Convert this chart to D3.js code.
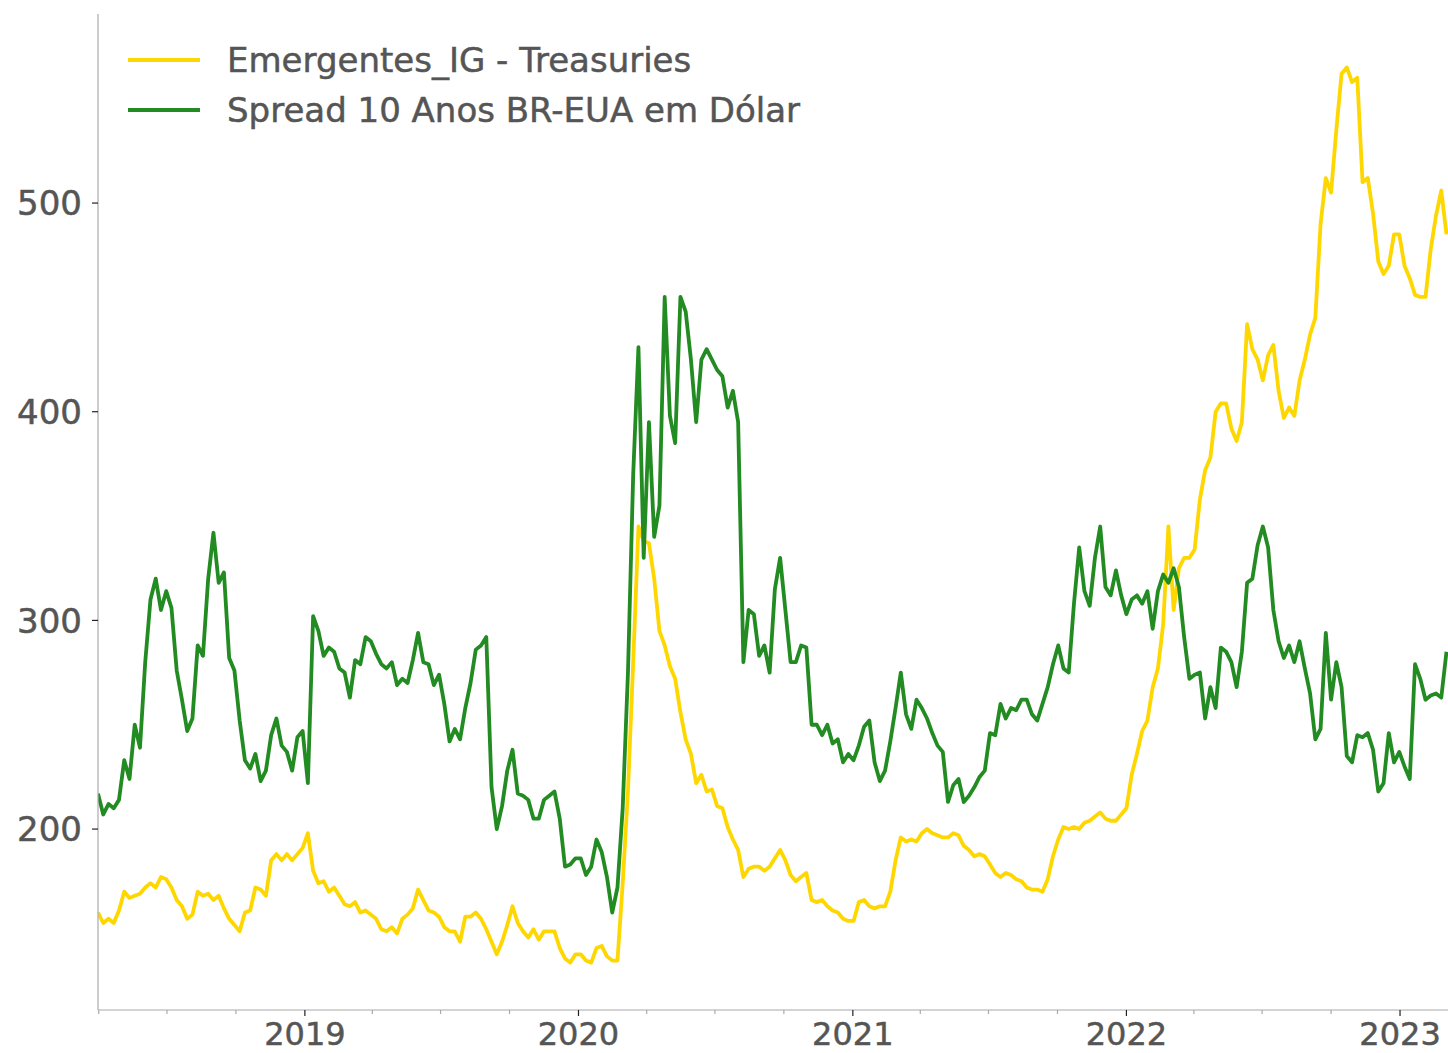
<!DOCTYPE html>
<html>
<head>
<meta charset="utf-8">
<script src="https://cdn.jsdelivr.net/npm/d3@7"></script>
<style>
  body { margin: 0; background: #fff; }
  svg { display: block; font-family: "DejaVu Sans", sans-serif; }
  .tick-label { fill: #555; stroke: #555; stroke-width: 0.5px; }
</style>
</head>
<body>
<div id="chart"></div>
<script>
// weekly observations, first week starting 2018-03-31
var startDate = new Date(2018, 2, 31);

var seriesNames = ["Emergentes_IG - Treasuries", "Spread 10 Anos BR-EUA em Dólar"];
var seriesColors = ["#FFD700", "#228B22"];

var emergentesIG = [
  160,155,157,155,161,170,167,168,169,172,174,172,177,176,172,166,163,157,159,170,
  168,169,166,168,162,157,154,151,160,161,172,171,168,185,188,185,188,185,188,191,
  198,180,174,175,170,172,168,164,163,165,160,161,159,157,152,151,153,150,157,159,
  162,171,166,161,160,158,153,151,151,146,158,158,160,157,152,146,140,146,154,163,
  155,151,148,152,147,151,151,151,143,138,136,140,140,137,136,143,144,139,137,137,
  174,218,280,345,338,337,320,295,288,278,272,256,243,236,222,226,218,219,211,210,
  201,195,190,177,181,182,182,180,182,186,190,185,178,175,177,179,166,165,166,163,
  161,160,157,156,156,165,166,163,162,163,163,170,185,196,194,195,194,198,200,198,
  197,196,196,198,197,192,190,187,188,187,183,179,177,179,178,176,175,172,171,171,
  170,176,187,195,201,200,201,200,203,204,206,208,205,204,204,207,210,226,236,247,
  252,268,277,298,345,305,325,330,330,334,358,372,378,400,404,404,392,386,395,442,
  430,425,415,427,432,410,397,402,398,415,425,437,445,490,512,505,535,562,565,558,
  560,510,512,495,472,466,470,485,485,470,464,456,455,455,478,494,506,485
];

var spread10Anos = [
  217,207,212,210,214,233,224,250,239,280,310,320,305,314,306,276,262,247,253,288,
  283,320,342,318,323,282,276,252,233,229,236,223,228,245,253,240,237,228,244,247,
  222,302,295,283,287,285,277,275,263,281,279,292,290,284,279,277,280,269,272,270,
  281,294,280,279,269,274,260,242,248,243,258,270,286,288,292,220,200,211,228,238,
  217,216,214,205,205,214,216,218,205,182,183,186,186,178,182,195,189,177,160,172,
  210,275,370,431,330,395,340,355,455,398,385,455,448,425,395,425,430,425,420,417,
  402,410,395,280,305,303,283,288,275,315,330,305,280,280,288,287,250,250,245,250,
  241,243,232,236,233,240,249,252,232,223,228,242,258,275,255,248,262,258,253,246,
  240,237,213,221,224,213,216,220,225,228,246,245,260,253,258,257,262,262,255,252,
  260,268,279,288,277,275,308,335,314,307,330,345,316,312,324,312,303,310,312,308,
  314,296,314,322,318,325,316,292,272,274,275,253,268,258,287,285,280,268,285,318,
  320,336,345,335,305,290,282,288,280,290,277,265,243,248,294,262,280,268,235,232,
  245,244,246,238,218,222,246,232,237,230,224,279,272,262,264,265,263,285
];

var yTicks = [200, 300, 400, 500];
var xYearTicks = [2019, 2020, 2021, 2022, 2023];

var width = 1448, height = 1053;
var plot = {left: 98, right: 1448, top: 14, bottom: 1010};

var dates = emergentesIG.map(function (d, i) { return d3.timeDay.offset(startDate, 7 * i); });

var svg = d3.select("#chart").append("svg")
    .attr("width", width)
    .attr("height", height);

svg.append("rect").attr("width", width).attr("height", height).attr("fill", "#fff");

var xScale = d3.scaleTime()
    .domain([new Date(2018, 2, 31), new Date(2023, 2, 6)])
    .range([plot.left, plot.right]);

var yScale = d3.scaleLinear()
    .domain([113.3, 590.6])
    .range([plot.bottom, plot.top]);

svg.append("clipPath").attr("id", "clip")
  .append("rect")
    .attr("x", plot.left).attr("y", plot.top)
    .attr("width", plot.right - plot.left).attr("height", plot.bottom - plot.top);

// lines
var line = d3.line()
    .x(function (d) { return xScale(d[0]); })
    .y(function (d) { return yScale(d[1]); })
    .curve(d3.curveLinear);

[emergentesIG, spread10Anos].forEach(function (values, k) {
    var pts = values.map(function (v, i) { return [dates[i], v]; });
    svg.append("path")
        .datum(pts)
        .attr("clip-path", "url(#clip)")
        .attr("fill", "none")
        .attr("stroke", seriesColors[k])
        .attr("stroke-width", 3.8)
        .attr("stroke-linejoin", "round")
        .attr("d", line);
});

// axis lines
svg.append("line")
    .attr("x1", plot.left).attr("x2", plot.left)
    .attr("y1", plot.top).attr("y2", plot.bottom)
    .attr("stroke", "#aaa").attr("stroke-width", 1.2);
svg.append("line")
    .attr("x1", plot.left).attr("x2", plot.right)
    .attr("y1", plot.bottom).attr("y2", plot.bottom)
    .attr("stroke", "#aaa").attr("stroke-width", 1.2);

// y ticks
yTicks.forEach(function (t) {
    var y = yScale(t);
    svg.append("line")
        .attr("x1", plot.left - 6).attr("x2", plot.left)
        .attr("y1", y).attr("y2", y)
        .attr("stroke", "#222").attr("stroke-width", 1.2);
    svg.append("text")
        .attr("class", "tick-label")
        .attr("x", plot.left - 16)
        .attr("y", y)
        .attr("dy", "0.36em")
        .attr("text-anchor", "end")
        .style("font-size", "34px")
        .text(t);
});

// minor (quarterly) ticks on x
var quarters = d3.timeMonth.every(3).range(new Date(2018, 3, 1), new Date(2023, 2, 7));
quarters.forEach(function (q) {
    var x = xScale(q);
    var major = q.getMonth() === 0;
    svg.append("line")
        .attr("x1", x).attr("x2", x)
        .attr("y1", plot.bottom).attr("y2", plot.bottom + (major ? 6 : 4))
        .attr("stroke", major ? "#222" : "#aaa")
        .attr("stroke-width", 1.2);
});

// year labels
xYearTicks.forEach(function (yr) {
    svg.append("text")
        .attr("class", "tick-label")
        .attr("x", xScale(new Date(yr, 0, 1)))
        .attr("y", 1033)
        .attr("dy", "0.36em")
        .attr("text-anchor", "middle")
        .style("font-size", "32px")
        .text(yr);
});

// legend
seriesNames.forEach(function (name, k) {
    var y = 60 + k * 50;
    svg.append("line")
        .attr("x1", 128).attr("x2", 200)
        .attr("y1", y).attr("y2", y)
        .attr("stroke", seriesColors[k])
        .attr("stroke-width", 4);
    svg.append("text")
        .attr("class", "tick-label")
        .attr("x", 227)
        .attr("y", y)
        .attr("dy", "0.36em")
        .style("font-size", "34px")
        .text(name);
});
</script>
</body>
</html>
